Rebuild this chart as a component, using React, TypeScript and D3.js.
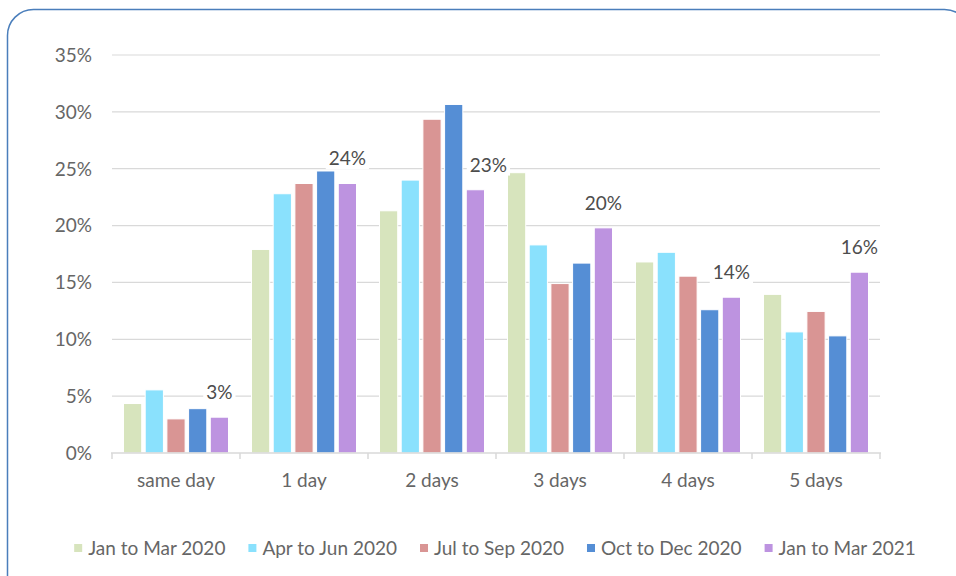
import React, { useRef, useEffect } from 'react';
import * as d3 from 'd3';

// categories on the x axis
const categories = ['same day', '1 day', '2 days', '3 days', '4 days', '5 days'];

// series names (legend order)
const seriesNames = [
  'Jan to Mar 2020',
  'Apr to Jun 2020',
  'Jul to Sep 2020',
  'Oct to Dec 2020',
  'Jan to Mar 2021',
];

const seriesColors = ['#d7e4bd', '#8ae1fd', '#d99594', '#558ed5', '#bd93e0'];

// values in percent, one array per series
const jan2020 = [4.35, 17.9, 21.3, 24.65, 16.8, 13.95];
const apr2020 = [5.55, 22.8, 24.0, 18.3, 17.65, 10.65];
const jul2020 = [3.0, 23.7, 29.35, 14.9, 15.55, 12.45];
const oct2020 = [3.9, 24.8, 30.65, 16.7, 12.6, 10.3];
const jan2021 = [3.15, 23.7, 23.15, 19.8, 13.7, 15.9];

const seriesValues = [jan2020, apr2020, jul2020, oct2020, jan2021];

const yTicks = [0, 5, 10, 15, 20, 25, 30, 35];

// the last series carries the data labels; the 2 days one was nudged right
const labelNudge = [0, 0, 13, 0, 0, 0];

const FONT = 'Lato, "Noto Sans", sans-serif';

const Chart = () => {
  const ref = useRef<SVGSVGElement>(null);

  useEffect(() => {
    const width = 956;
    const height = 576;
    const margin = { top: 55, right: 76, bottom: 123, left: 112 };

    const svg = d3.select(ref.current);
    svg.selectAll('*').remove();
    svg.attr('width', width).attr('height', height);

    //outer rounded border
    svg.append('rect')
      .attr('x', 7.5)
      .attr('y', 9.5)
      .attr('width', 963)
      .attr('height', 640)
      .attr('rx', 26)
      .attr('fill', '#fff')
      .attr('stroke', '#4a7ebb')
      .attr('stroke-width', 1.5);

    const x0 = d3.scaleBand()
      .domain(categories)
      .range([margin.left, width - margin.right])
      .paddingInner(0)
      .paddingOuter(0);

    const x1 = d3.scaleBand()
      .domain(seriesNames)
      .range([11.5, x0.bandwidth() - 11.5])
      .paddingInner(0.16);

    const y = d3.scaleLinear()
      .domain([0, 35])
      .range([height - margin.bottom, margin.top]);

    //gridlines
    svg.append('g')
      .selectAll('line')
      .data(yTicks.filter(d => d > 0))
      .join('line')
      .attr('x1', margin.left)
      .attr('x2', width - margin.right)
      .attr('y1', d => y(d))
      .attr('y2', d => y(d))
      .attr('stroke', '#d9d9d9')
      .attr('stroke-width', 1.2);

    //y labels
    svg.append('g')
      .selectAll('text')
      .data(yTicks)
      .join('text')
      .attr('x', 92)
      .attr('y', d => y(d))
      .attr('dy', '0.36em')
      .attr('text-anchor', 'end')
      .style('font-family', FONT)
      .style('font-size', '19px')
      .style('fill', '#666')
      .text(d => `${d}%`);

    //bars
    seriesNames.forEach((name, si) => {
      svg.append('g')
        .selectAll('rect')
        .data(seriesValues[si])
        .join('rect')
        .attr('x', (d, i) => x0(categories[i])! + x1(name)!)
        .attr('y', d => y(d))
        .attr('width', x1.bandwidth())
        .attr('height', d => y(0) - y(d))
        .attr('fill', seriesColors[si])
        .attr('stroke', '#fff')
        .attr('stroke-width', 1);
    });

    //x axis
    const axisY = y(0);
    svg.append('line')
      .attr('x1', margin.left - 1)
      .attr('x2', width - margin.right + 1)
      .attr('y1', axisY)
      .attr('y2', axisY)
      .attr('stroke', '#d9d9d9')
      .attr('stroke-width', 1.5);

    const boundaries = categories.map(c => x0(c)!).concat([width - margin.right]);
    svg.append('g')
      .selectAll('line')
      .data(boundaries)
      .join('line')
      .attr('x1', d => d)
      .attr('x2', d => d)
      .attr('y1', axisY)
      .attr('y2', axisY + 6)
      .attr('stroke', '#d9d9d9')
      .attr('stroke-width', 1.5);

    svg.append('g')
      .selectAll('text')
      .data(categories)
      .join('text')
      .attr('x', d => x0(d)! + x0.bandwidth() / 2)
      .attr('y', 487)
      .attr('text-anchor', 'middle')
      .style('font-family', FONT)
      .style('font-size', '19px')
      .style('fill', '#666')
      .text(d => d);

    //data labels for the last series, with white background
    const last = seriesNames[seriesNames.length - 1];
    const labels = svg.append('g');
    jan2021.forEach((v, i) => {
      const cx = x0(categories[i])! + x1(last)! + x1.bandwidth() / 2 + labelNudge[i];
      const cy = y(v) - 25;
      const g = labels.append('g');
      const bg = g.append('rect').attr('fill', '#fff');
      const t = g.append('text')
        .attr('x', cx)
        .attr('y', cy)
        .attr('dy', '0.36em')
        .attr('text-anchor', 'middle')
        .style('font-family', FONT)
        .style('font-size', '19px')
        .style('fill', '#4d4d4d')
        .text(`${Math.round(v)}%`);
      const bb = (t.node() as SVGTextElement).getBBox();
      bg.attr('x', bb.x - 3)
        .attr('y', bb.y)
        .attr('width', bb.width + 6)
        .attr('height', bb.height);
    });

    //legend
    const legend = svg.append('g');
    const items = seriesNames.map((name, i) => {
      const g = legend.append('g');
      g.append('rect')
        .attr('x', 0)
        .attr('y', -4)
        .attr('width', 8)
        .attr('height', 8)
        .attr('fill', seriesColors[i]);
      const t = g.append('text')
        .attr('x', 14)
        .attr('y', 0)
        .attr('dy', '0.36em')
        .style('font-family', FONT)
        .style('font-size', '19px')
        .style('fill', '#666')
        .text(name);
      const w = 14 + (t.node() as SVGTextElement).getComputedTextLength();
      return { g, w };
    });
    const gap = 23;
    const total = d3.sum(items, d => d.w) + gap * (items.length - 1);
    let cursor = 495 - total / 2;
    items.forEach(it => {
      it.g.attr('transform', `translate(${cursor},548)`);
      cursor += it.w + gap;
    });
  }, []);

  return <svg ref={ref} style={{ position: 'absolute', left: 0, top: 0 }}></svg>;
};

export default function App() {
  return <Chart />;
}
